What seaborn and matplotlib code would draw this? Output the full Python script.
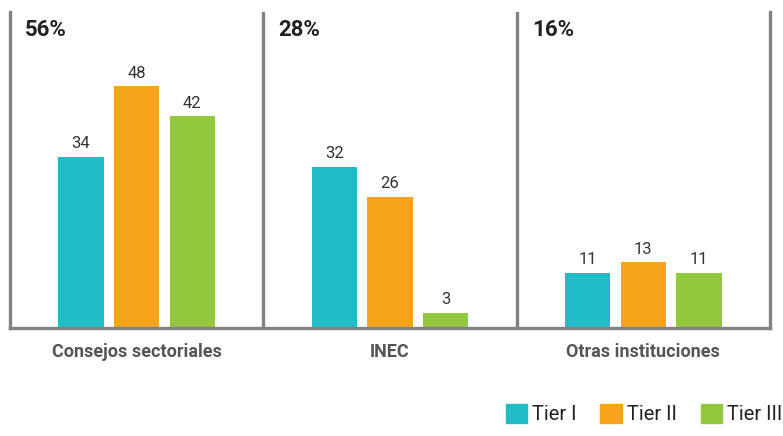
import pandas as pd
import matplotlib.pyplot as plt
import seaborn as sns
from matplotlib.patches import Patch

categorias = ['Consejos sectoriales', 'INEC', 'Otras instituciones']
porcentajes = ['56%', '28%', '16%']
tiers = ['Tier I', 'Tier II', 'Tier III']
tier_1 = [34, 32, 11]
tier_2 = [48, 26, 13]
tier_3 = [42, 3, 11]
colores = ['#20BDC8', '#F7A41D', '#93C83E']

filas = []
for i, cat in enumerate(categorias):
    for tier, vals in zip(tiers, [tier_1, tier_2, tier_3]):
        filas.append({'categoria': cat, 'tier': tier, 'valor': vals[i]})
df = pd.DataFrame(filas)

sns.set_style('white')
plt.rcParams['font.family'] = ['Roboto', 'DejaVu Sans']

fig = plt.figure(figsize=(7.83, 4.36), dpi=100)
ax = fig.add_axes([10 / 783, 108 / 436, 760 / 783, 316 / 436])

sns.barplot(data=df, x='categoria', y='valor', hue='tier', palette=colores,
            width=0.66, gap=0.19, ax=ax, legend=False, saturation=1, linewidth=0)

for cont in ax.containers:
    ax.bar_label(cont, padding=4, fontsize=12, color='#333333')

ax.set_xlim(-0.5, 2.5)
ax.set_ylim(0, 62.7)
ax.set_yticks([])
ax.set_xlabel('')
ax.set_ylabel('')
ax.tick_params(axis='x', length=0, pad=11)
for lbl in ax.get_xticklabels():
    lbl.set_fontweight('bold')
    lbl.set_fontsize(13)
    lbl.set_color('#555555')

gris = '#808285'
ax.spines['top'].set_visible(False)
for s in ['left', 'right', 'bottom']:
    ax.spines[s].set_color(gris)
    ax.spines[s].set_linewidth(2.4)
for x in [0.5, 1.5]:
    ax.axvline(x, color=gris, lw=2.4)

for i, p in enumerate(porcentajes):
    ax.text(i - 0.44, 59.1, p, fontsize=16, fontweight='bold', color='#222222',
            va='center', ha='left')

handles = [Patch(color=c, label=t) for c, t in zip(colores, tiers)]
fig.legend(handles=handles, loc='lower right', bbox_to_anchor=(1.022, -0.015),
           ncol=3, frameon=False, fontsize=14.5, handlelength=1.05, handleheight=1.05,
           handletextpad=0.25, columnspacing=1.2, labelcolor='#222222')

plt.savefig('out.png', dpi=100)
